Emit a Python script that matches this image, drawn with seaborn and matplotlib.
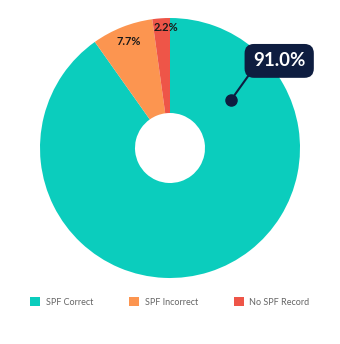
import matplotlib
matplotlib.use("Agg")
import matplotlib.pyplot as plt
import seaborn as sns
from matplotlib.patches import Patch

sns.set_theme(style="white")
plt.rcParams['font.family'] = ['Lato', 'DejaVu Sans']

categories = ["SPF Correct", "SPF Incorrect", "No SPF Record"]
values = [91.0, 7.7, 2.2]
colors = ["#0BCDBD", "#FC9550", "#EE5548"]

fig = plt.figure(figsize=(3.4, 3.44), dpi=100)
ax = fig.add_axes([40/340, 1-278/344, 260/340, 260/344])

wedges, texts = ax.pie(
    values, colors=colors, startangle=90, counterclock=False,
    wedgeprops=dict(width=1-35/130, linewidth=0))
ax.set_aspect("equal")
ax.set_xlim(-1, 1)
ax.set_ylim(-1, 1)

label_pos = [None, (-0.32, 0.82), (-0.03, 0.93)]
for v, pos in zip(values, label_pos):
    if pos is not None:
        ax.text(pos[0], pos[1], f"{v:.1f}%", ha="center", va="center",
                fontsize=8, color="#1a1a1a", fontweight="bold")

# callout for largest slice
ax.plot([0.47], [0.37], marker="o", markersize=8, color="#0E1D40", zorder=5)
ax.plot([0.47, 0.62], [0.37, 0.58], color="#0E1D40", lw=1.5, zorder=4)
ax.text(0.84, 0.67, f"{values[0]:.1f}%", ha="center", va="center", fontsize=13.5,
        color="white", fontweight="bold", zorder=6,
        bbox=dict(boxstyle="round,pad=0.45,rounding_size=0.5", fc="#0E1D40", ec="none"))

handles = [Patch(facecolor=c, edgecolor="none") for c in colors]
fig.legend(handles, categories, loc="center", bbox_to_anchor=(0.5, 1-302/344),
           ncol=3, frameon=False, fontsize=6.5, labelcolor="#666666",
           handlelength=1.1, handleheight=1.1, columnspacing=4.0, handletextpad=0.6)

fig.savefig("out.png", dpi=100)
